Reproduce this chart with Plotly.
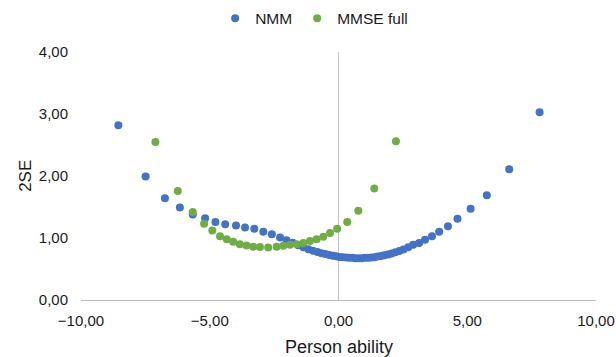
import plotly.graph_objects as go

# NMM series (person ability, 2SE)
nmm_x = [-8.55, -7.49, -6.74, -6.16, -5.66, -5.18, -4.78, -4.40, -3.98, -3.63,
         -3.27, -2.92, -2.59, -2.27, -2.02, -1.78, -1.56, -1.36, -1.17, -0.99,
         -0.82, -0.66, -0.51, -0.36, -0.22, -0.09, 0.04, 0.17, 0.30, 0.42,
         0.54, 0.66, 0.78, 0.90, 1.02, 1.14, 1.26, 1.39, 1.52, 1.65,
         1.78, 1.92, 2.06, 2.21, 2.36, 2.52, 2.71, 2.90, 3.13, 3.36,
         3.63, 3.91, 4.25, 4.62, 5.13, 5.76, 6.63, 7.81]
nmm_y = [2.82, 1.99, 1.64, 1.49, 1.38, 1.32, 1.26, 1.22, 1.20, 1.17,
         1.15, 1.10, 1.06, 1.01, 0.965, 0.925, 0.885, 0.85, 0.82, 0.795,
         0.775, 0.755, 0.74, 0.725, 0.715, 0.705, 0.695, 0.69, 0.685, 0.68,
         0.68, 0.675, 0.675, 0.675, 0.68, 0.68, 0.685, 0.69, 0.70, 0.71,
         0.72, 0.735, 0.75, 0.77, 0.79, 0.815, 0.85, 0.89, 0.92, 0.97,
         1.03, 1.10, 1.19, 1.31, 1.47, 1.69, 2.11, 3.03]

# MMSE full series
mmse_x = [-7.11, -6.24, -5.66, -5.22, -4.90, -4.60, -4.34, -4.09, -3.83, -3.57,
          -3.31, -3.05, -2.73, -2.40, -2.14, -1.88, -1.62, -1.37, -1.11, -0.85,
          -0.59, -0.33, -0.05, 0.34, 0.77, 1.39, 2.23]
mmse_y = [2.55, 1.76, 1.42, 1.23, 1.12, 1.03, 0.98, 0.94, 0.90, 0.88,
          0.86, 0.855, 0.845, 0.86, 0.875, 0.89, 0.90, 0.92, 0.95, 0.98,
          1.02, 1.08, 1.15, 1.26, 1.44, 1.80, 2.56]

x_ticks = [-10, -5, 0, 5, 10]
y_ticks = [0, 1, 2, 3, 4]

font_family = "Liberation Sans, Arial, sans-serif"

fig = go.Figure()
fig.add_trace(go.Scatter(x=nmm_x, y=nmm_y, mode="markers", name="NMM",
                         marker=dict(color="#4472C4", size=8)))
fig.add_trace(go.Scatter(x=mmse_x, y=mmse_y, mode="markers", name="MMSE full",
                         marker=dict(color="#70AD47", size=8)))

fig.update_layout(
    width=616, height=357,
    margin=dict(l=81, r=20, t=52, b=57),
    paper_bgcolor="white", plot_bgcolor="white",
    separators=",.",
    font=dict(family=font_family, size=15, color="#1a1a1a"),
    legend=dict(orientation="h", xref="container", yref="container",
                x=0.51, y=0.948, xanchor="center", yanchor="middle",
                font=dict(size=15.5), itemwidth=30, tracegroupgap=0),
    showlegend=True,
    annotations=[
        dict(text="Person ability", xref="paper", yref="paper",
             x=0.5, y=-0.19, xanchor="center", yanchor="middle",
             showarrow=False, font=dict(size=18)),
        dict(text="2SE", xref="paper", yref="paper",
             x=-0.109, y=0.5, xanchor="center", yanchor="middle",
             textangle=-90, showarrow=False, font=dict(size=17)),
    ],
)
fig.update_xaxes(range=[-10, 10], tickvals=x_ticks, tickformat=".2f",
                 showgrid=False, zeroline=True, zerolinecolor="#BFBFBF",
                 zerolinewidth=1, showline=True, linecolor="#BFBFBF",
                 linewidth=1, ticks="", ticklabelstandoff=7,
                 automargin=False)
fig.update_yaxes(range=[0, 4], tickvals=y_ticks, tickformat=".2f",
                 showgrid=False, zeroline=False, showline=False, ticks="",
                 ticklabelstandoff=12, automargin=False)

fig.write_html(
    "out.html",
    config={"displayModeBar": False},
    post_script="document.body.style.margin='0';document.body.style.overflow='hidden';",
)
